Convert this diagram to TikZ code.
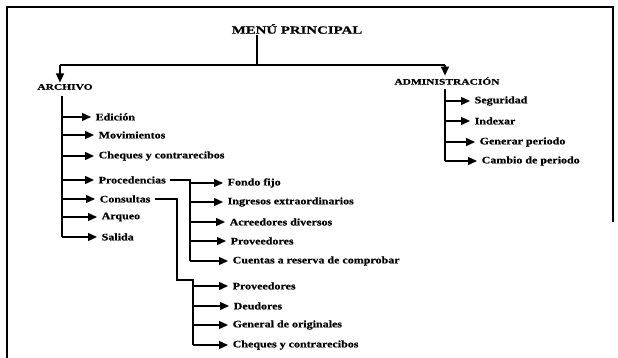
\documentclass[tikz,border=0pt]{standalone}
\usepackage{fontspec}
\setmainfont{Liberation Serif}
\newfontfamily\itemfont[FakeStretch=1.2,FakeBold=0.6]{Liberation Serif}
\newfontfamily\headfont[FakeStretch=1.35,FakeBold=0.8]{Liberation Serif}
\usetikzlibrary{arrows.meta}
\begin{document}
\begin{tikzpicture}[x=1pt,y=-1pt,line width=1.4pt,
  item/.style={font=\itemfont\bfseries\fontsize{10}{12}\selectfont,anchor=west,inner sep=1pt},
  head/.style={font=\headfont\bfseries\fontsize{8.5}{10}\selectfont,inner sep=1pt},
  title/.style={font=\headfont\bfseries\fontsize{11}{13}\selectfont,inner sep=1pt},
  arr/.style={-{Triangle[length=9pt,width=8pt]},shorten >=3pt},
  frame/.style={line width=1.3pt}]
\useasboundingbox (0,0) rectangle (618,358);
\draw[frame] (7,358) -- (7,7) -- (613,7) -- (613,222);

% top level
\node[title] (menu) at (297,29) {MENÚ PRINCIPAL};
\node[head] (arch) at (65,87) {ARCHIVO};
\node[head] (adm) at (447,81) {ADMINISTRACIÓN};
\coordinate (j) at (257,65);
\coordinate (la) at (60,65);
\coordinate (ra) at (445,65);
\draw (j |- menu.south) -- (j);
\draw (la) -- (ra);
\draw[arr,shorten >=0pt] (la) -- (la |- arch.north);
\draw[arr,shorten >=0pt] (ra) -- (ra |- adm.north);

% ARCHIVO
\node[item] (ed) at (94,117) {Edición};
\node[item] (mov) at (97,135) {Movimientos};
\node[item] (chq) at (97,156) {Cheques y contrarecibos};
\node[item] (proc) at (97,180) {Procedencias};
\node[item] (cons) at (98,199) {Consultas};
\node[item] (arq) at (100,217) {Arqueo};
\node[item] (sal) at (100,237) {Salida};
\coordinate (ta) at (62,96);
\draw (ta) -- (ta |- sal.west);
\foreach \n in {ed,mov,chq,proc,cons,arq,sal}
  \draw[arr] (ta |- \n.west) -- (\n.west);

% Procedencias
\coordinate (tp) at (190,180);
\node[item] (ff) at (226,183) {Fondo fijo};
\node[item] (ie) at (226,202) {Ingresos extraordinarios};
\node[item] (ad) at (228,222) {Acreedores diversos};
\node[item] (pv1) at (229,241) {Proveedores};
\node[item] (cr) at (231,261) {Cuentas a reserva de comprobar};
\draw[shorten <=3pt] (proc.east) -- (tp |- proc.east) -- (tp |- cr.west);
\foreach \n in {ff,ie,ad,pv1,cr}
  \draw[arr] (tp |- \n.west) -- (\n.west);

% Consultas
\coordinate (cv) at (177,199);
\coordinate (tc) at (193,280);
\node[item] (pv2) at (231,286) {Proveedores};
\node[item] (deu) at (232,306) {Deudores};
\node[item] (gen) at (231,325) {General de originales};
\node[item] (chq2) at (231,345) {Cheques y contrarecibos};
\draw[shorten <=3pt] (cons.east) -- (cv |- cons.east) -- (cv |- tc) -- (tc) -- (tc |- chq2.west);
\foreach \n in {pv2,deu,gen,chq2}
  \draw[arr] (tc |- \n.west) -- (\n.west);

% ADMINISTRACION
\coordinate (tm) at (445,89);
\node[item] (seg) at (473,101) {Seguridad};
\node[item] (idx) at (473,121) {Indexar};
\node[item] (gp) at (478,142) {Generar periodo};
\node[item] (cp) at (480,161) {Cambio de periodo};
\draw (tm) -- (tm |- cp.west);
\foreach \n in {seg,idx,gp,cp}
  \draw[arr] (tm |- \n.west) -- (\n.west);
\end{tikzpicture}
\end{document}
